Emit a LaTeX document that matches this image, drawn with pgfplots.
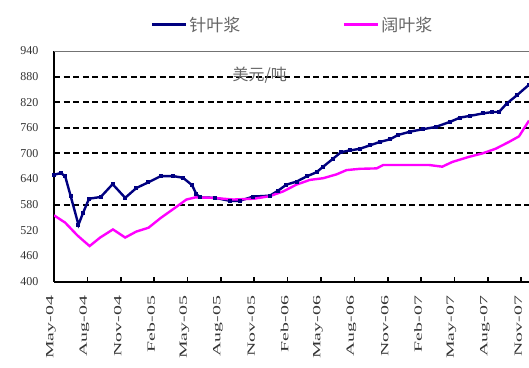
\documentclass[border=0pt]{standalone}
\usepackage{fontspec}
\setmainfont{Liberation Serif}
\newfontfamily\cjk{Noto Sans CJK SC}
\usepackage{graphicx}
\usepackage{pgfplots}
\pgfplotsset{compat=1.18}
\definecolor{needle}{RGB}{0,0,128}
\definecolor{broad}{RGB}{255,0,255}
\newcommand{\xl}[1]{\scalebox{1.8}[1]{#1}}
\begin{document}
\begin{tikzpicture}
\useasboundingbox (0,0) rectangle (529pt,367pt);
\begin{axis}[
  at={(54pt,85.5pt)}, anchor=south west,
  scale only axis, width=475pt, height=230.5pt,
  xmin=0, xmax=42.7, ymin=400, ymax=940,
  axis lines*=left,
  x axis line style={line width=2pt, black},
  y axis line style={line width=2.6pt, black},
  tick align=inside, major tick length=5pt,
  xtick={0,3,...,42},
  xticklabels={\xl{May-04},\xl{Aug-04},\xl{Nov-04},\xl{Feb-05},\xl{May-05},\xl{Aug-05},\xl{Nov-05},\xl{Feb-06},\xl{May-06},\xl{Aug-06},\xl{Nov-06},\xl{Feb-07},\xl{May-07},\xl{Aug-07},\xl{Nov-07}},
  xtick style={line width=1.6pt, black},
  xticklabel style={font=\fontsize{11}{11}\selectfont, text=black!80, xshift=-3pt, yshift=-11pt, rotate=90, anchor=east},
  ytick={400,460,...,940},
  ytick style={draw=none},
  yticklabel style={font=\fontsize{12}{12}\selectfont, text=black!80, xshift=-12pt},
  /pgf/number format/assume math mode=true,
  extra y ticks={580,700,760,820,880},
  extra y tick labels={},
  extra y tick style={grid=major, major tick length=0pt,
    major grid style={black, line width=2pt, dash pattern=on 6pt off 3.6pt}},
  legend columns=2,
  legend style={at={(axis description cs:0.502,1)}, anchor=south, yshift=14pt,
    draw=none, fill=none, font=\cjk\fontsize{17}{17}\selectfont, text=black!60,
    /tikz/every even column/.append style={column sep=100pt}},
  legend image code/.code={\draw[#1, line width=3pt] (0pt,0pt) -- (34pt,0pt);},
]
% top frame line
\draw[black!55, line width=1.6pt] (rel axis cs:0,1) -- (rel axis cs:1,1);

\addplot[needle, line width=2.4pt, mark=square*, mark size=0.8pt] coordinates {
 (0,650) (0.6,654) (1.0,647) (1.5,600) (2.2,533) (2.6,560) (3.15,594)
 (4.2,598) (5.27,628) (6.4,596) (7.4,619) (8.45,632) (9.6,647) (10.7,647)
 (11.6,643) (12.4,626) (12.8,605) (13.1,597) (14.5,596) (15.8,589)
 (16.7,589) (17.9,599) (19.4,601) (20.1,612) (20.9,627) (21.8,634)
 (22.7,646) (23.6,656) (24.2,669) (25.1,688) (25.8,703) (26.6,707)
 (27.5,711) (28.4,719) (29.3,727) (30.2,733) (30.9,743) (32.0,751)
 (33.2,757) (34.3,762) (35.6,774) (36.5,784) (37.4,788) (38.6,794)
 (39.4,797) (40.0,797) (40.7,817) (41.6,836) (42.7,861)
};
\addlegendentry{针叶浆}

\addplot[broad, line width=2.4pt] coordinates {
 (0,555) (1.0,538) (2.1,508) (3.2,483) (4.15,503) (5.3,522) (6.4,503)
 (7.4,517) (8.5,526) (9.6,549) (10.9,573) (11.9,592) (12.7,597)
 (14.3,596) (16.1,592) (18.0,594) (19.4,600) (20.6,611) (21.8,627)
 (23.0,638) (24.2,642) (25.4,651) (26.3,661) (27.5,664) (29.0,665)
 (29.6,673) (31.1,673) (33.7,673) (34.9,669) (35.8,680) (37.3,692)
 (38.5,700) (39.7,711) (40.9,727) (41.8,740) (42.7,777)
};
\addlegendentry{阔叶浆}

\node[font=\cjk\fontsize{16}{16}\selectfont, text=black!60] at (axis cs:18.5,884) {美元/吨};
\end{axis}
\end{tikzpicture}
\end{document}
